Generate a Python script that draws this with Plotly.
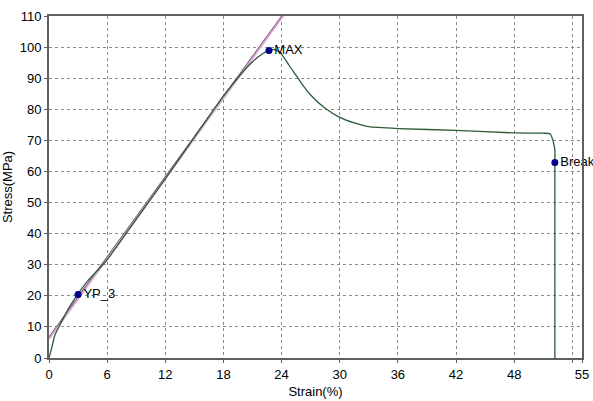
import plotly.graph_objects as go

# Stress-strain curve
strain = [0, 0.3, 0.6, 1.1, 2.0, 3.0, 4.0, 6.0, 9.0, 12.0, 15.0, 18.0, 20.0, 21.0, 22.0,
          22.7, 23.3, 23.8, 24.3, 24.8, 25.5, 26.0, 27.0, 28.5, 30.0, 31.5, 33.0, 36.0, 42.0,
          48.0, 51.0, 51.7, 52.0, 52.2, 52.2, 52.2]
stress = [0, 3.5, 7.3, 10.5, 15.8, 20.6, 24.8, 31.6, 44.6, 57.6, 71.0, 84.3, 92.0, 95.3, 97.8,
          98.9, 99.2, 98.4, 96.4, 94.0, 90.9, 88.6, 84.6, 80.3, 77.4, 75.6, 74.4, 73.8, 73.2,
          72.4, 72.3, 72.1, 70.0, 66.8, 62.9, 0]

# Linear fit lines
fit_x = [0, 25]
fit1_y = [6.3, 113.8]
fit2_y = [6.8, 114.3]

# Marked points
pt_x = [3.0, 22.7, 52.2]
pt_y = [20.4, 98.9, 62.9]
pt_labels = ["YP_3", "MAX", "Break"]

# Axis ticks
x_tickvals = [0, 6, 12, 18, 24, 30, 36, 42, 48, 54, 55]
x_ticktext = ["0", "6", "12", "18", "24", "30", "36", "42", "48", "", "55"]
y_tickvals = [0, 10, 20, 30, 40, 50, 60, 70, 80, 90, 100, 110]

FONT = "Liberation Sans, Arial"

fig = go.Figure()
fig.add_trace(go.Scatter(x=fit_x, y=fit1_y, mode="lines",
                         line=dict(color="#d9a6d6", width=2.5), showlegend=False))
fig.add_trace(go.Scatter(x=fit_x, y=fit2_y, mode="lines",
                         line=dict(color="#7a6080", width=1), showlegend=False))
fig.add_trace(go.Scatter(x=strain, y=stress, mode="lines",
                         line=dict(color="#2d5a37", width=1.3, shape="spline", smoothing=0.5),
                         showlegend=False))
fig.add_trace(go.Scatter(x=pt_x, y=pt_y, mode="markers+text", text=pt_labels,
                         textposition="middle right",
                         textfont=dict(family=FONT, size=13, color="#000"),
                         marker=dict(color="#00008b", size=7),
                         cliponaxis=False, showlegend=False))

axis_common = dict(
    showgrid=True, gridcolor="#8a8a8a", griddash="dot", gridwidth=1,
    showline=True, linecolor="#606060", linewidth=2, mirror=True,
    zeroline=False, ticks="outside", ticklen=3, tickcolor="#606060",
    tickfont=dict(family=FONT, size=13, color="#000"), automargin=False,
)

fig.update_xaxes(range=[0, 55], tickmode="array", tickvals=x_tickvals, ticktext=x_ticktext,
                 title=dict(text="Strain(%)", standoff=6,
                            font=dict(family=FONT, size=13, color="#000")),
                 **axis_common)
fig.update_yaxes(range=[0, 110], tickmode="array", tickvals=y_tickvals,
                 title=dict(text="Stress(MPa)", standoff=6,
                            font=dict(family=FONT, size=13, color="#000")),
                 **axis_common)

fig.update_layout(width=593, height=401, margin=dict(l=49, r=11, t=16, b=43),
                  plot_bgcolor="white", paper_bgcolor="white")

fig.write_html("out.html")
